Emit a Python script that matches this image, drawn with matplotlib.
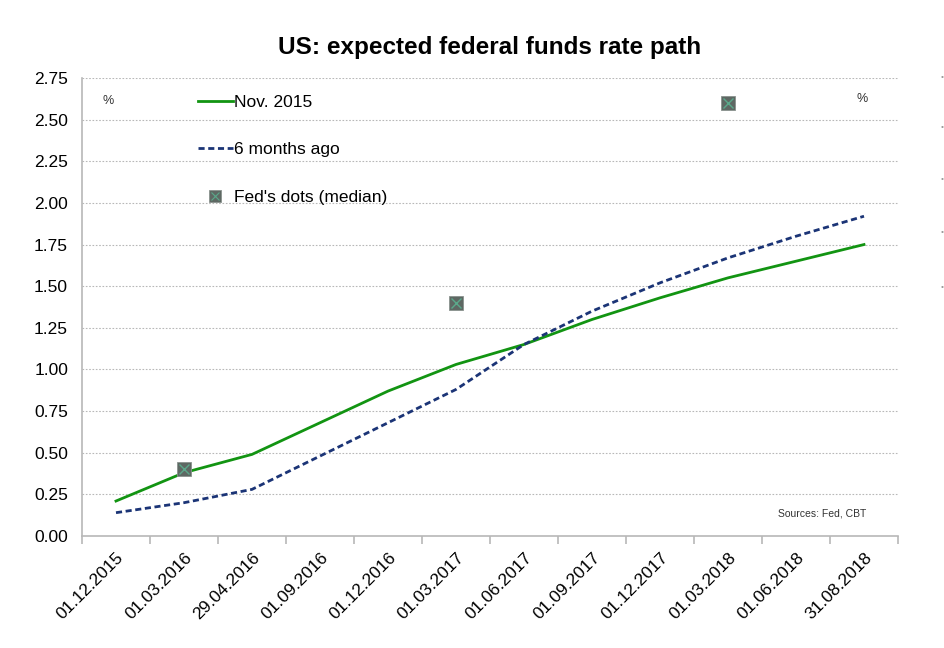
import matplotlib
matplotlib.use("Agg")
import matplotlib.pyplot as plt
import numpy as np
from matplotlib.lines import Line2D

plt.rcParams['font.family'] = ['Liberation Sans', 'DejaVu Sans']

dates = ["01.12.2015", "01.03.2016", "29.04.2016", "01.09.2016", "01.12.2016",
         "01.03.2017", "01.06.2017", "01.09.2017", "01.12.2017", "01.03.2018",
         "01.06.2018", "31.08.2018"]
nov2015 = [0.21, 0.38, 0.49, 0.68, 0.87, 1.03, 1.15, 1.30, 1.43, 1.55, 1.65, 1.75]
six_months = [0.14, 0.20, 0.28, 0.48, 0.68, 0.88, 1.15, 1.35, 1.52, 1.67, 1.80, 1.92]
fed_dots = [np.nan, 0.40, np.nan, np.nan, np.nan, 1.40, np.nan, np.nan, np.nan, 2.60, np.nan, np.nan]

GREEN = "#129412"
NAVY = "#1b3476"
SQ = "#5e6863"
XC = "#5aa88a"
GRID = "#b8b8b8"

fig = plt.figure(figsize=(9.44, 6.48), dpi=100)
ax = fig.add_axes([82/944, 1-536/648, (898-82)/944, (536-78)/648])

x = np.arange(len(dates))
ax.plot(x, nov2015, color=GREEN, lw=2.0, zorder=3)
ax.plot(x, six_months, color=NAVY, lw=2.0, ls=(0, (2.2, 1.3)), zorder=3)
ax.plot(x, fed_dots, ls="none", marker="s", ms=9.5, mfc=SQ, mec="#8a928e", mew=0.6, zorder=4)
ax.plot(x, fed_dots, ls="none", marker="x", ms=7, mec=XC, mew=1.0, zorder=5)

ax.set_xlim(-0.5, len(dates) - 0.5)
ax.set_ylim(0, 2.75)
ax.set_yticks(np.arange(0, 2.76, 0.25))
ax.set_yticklabels([f"{v:.2f}" for v in np.arange(0, 2.76, 0.25)], fontsize=12.5)
ax.tick_params(axis="y", length=0, pad=10)

ax.set_xticks(x)
ax.set_xticklabels(dates, fontsize=12.5, rotation=45, ha="right", rotation_mode="anchor")
ax.set_xticks(np.arange(-0.5, len(dates)), minor=True)
ax.tick_params(axis="x", which="major", length=0, pad=10)
ax.tick_params(axis="x", which="minor", length=6, color=GRID, width=1.2)

ax.grid(axis="y", color=GRID, ls=(0, (1.5, 1.5)), lw=0.8)
ax.set_axisbelow(True)
for s in ["top", "right"]:
    ax.spines[s].set_visible(False)
for s in ["left", "bottom"]:
    ax.spines[s].set_color(GRID)
    ax.spines[s].set_linewidth(1.2)

ax.set_title("US: expected federal funds rate path", fontsize=17.5, fontweight="bold", pad=17)

h1 = Line2D([], [], color=GREEN, lw=2.0)
h2 = Line2D([], [], color=NAVY, lw=2.0, ls=(0, (2.2, 1.3)))
h3 = Line2D([], [], ls="none", marker="s", ms=8.5, mfc=SQ, mec="#8a928e", mew=0.6)
h3x = Line2D([], [], ls="none", marker="x", ms=6, mec=XC, mew=0.8)
ax.legend([h1, h2, (h3, h3x)], ["Nov. 2015", "6 months ago", "Fed's dots (median)"],
          loc="upper left", bbox_to_anchor=(198/944, 1-95/648), bbox_transform=fig.transFigure,
          frameon=False, fontsize=12.5, handlelength=2.0, handletextpad=0.1,
          labelspacing=1.85, borderpad=0, borderaxespad=0)

fig.text(108/944, 1-101/648, "%", fontsize=9, ha="center", va="center", color="#333333")
fig.text(862/944, 1-99/648, "%", fontsize=9, ha="center", va="center", color="#333333")
fig.text(866/944, 1-513/648, "Sources: Fed, CBT", fontsize=7.5, ha="right", va="center", color="#333333")

for yy in [78, 127, 180, 233, 287]:
    fig.text(942/944, 1-yy/648, "•", fontsize=6, ha="center", va="center", color="#999999")

fig.savefig("out.png", dpi=100)
